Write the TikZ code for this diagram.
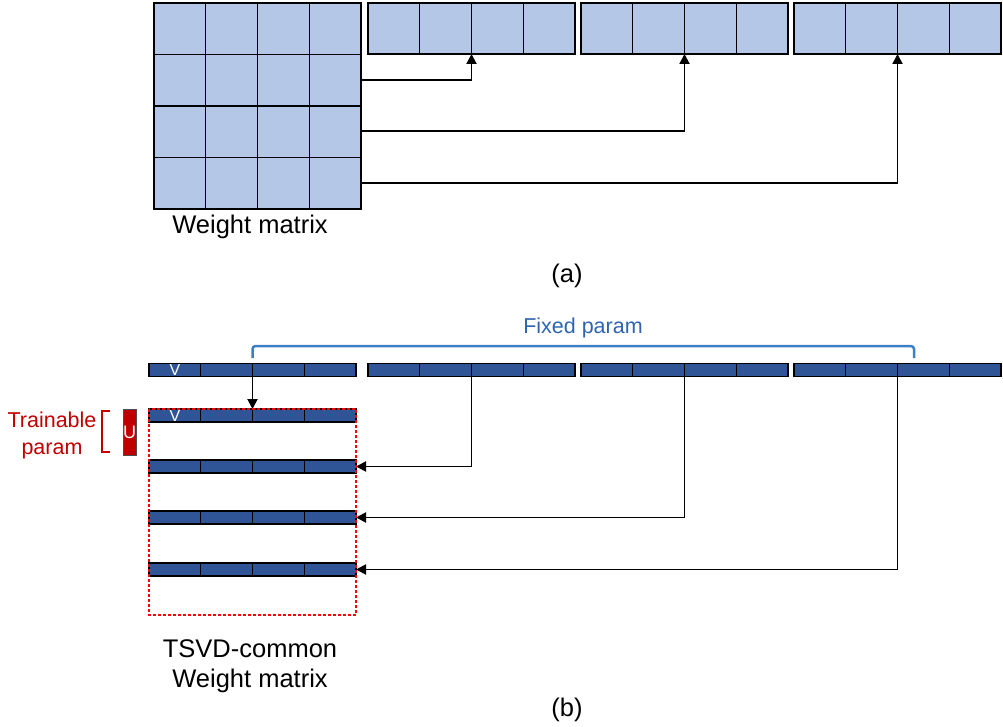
\documentclass[tikz,border=0pt]{standalone}
\usepackage{fontspec}
\setmainfont{Liberation Sans}
\usetikzlibrary{arrows.meta,calc}
\definecolor{lb}{HTML}{B4C7E7}
\definecolor{db}{HTML}{2F5597}
\definecolor{fixline}{HTML}{3D7FC4}
\definecolor{fixtxt}{HTML}{2E64B0}
\definecolor{rd}{HTML}{C00000}
\definecolor{brightred}{HTML}{FF0000}
\begin{document}
\begin{tikzpicture}[x=1pt,y=-1pt,
  blk/.style={draw=black, line width=1.6pt, fill=lb, minimum width=207pt, minimum height=51pt, inner sep=0pt, outer sep=0pt},
  bar/.style={draw=black, line width=1.6pt, fill=db, minimum width=207pt, minimum height=13pt, inner sep=0pt, outer sep=0pt},
  divider/.style={draw=black, line width=1.4pt},
  arr/.style={draw=black, line width=1.9pt, -{Triangle[length=10pt,width=10pt]}},
  lbl/.style={font=\fontsize{25.5}{30}\selectfont, inner sep=0pt},
  smalllbl/.style={font=\fontsize{21.5}{27}\selectfont, inner sep=0pt},
  vlbl/.style={font=\fontsize{16}{16}\selectfont, text=white, inner sep=0pt},
  reddot/.style={draw=brightred, line width=2.6pt, dash pattern=on 2.6pt off 2.4pt}
]
\useasboundingbox (0,0) rectangle (1003,727);

% ---------- (a) ----------
\node[blk, minimum height=206pt, line width=2.2pt] (M) at (257.5,106) {};
\foreach \i in {1,2,3} {
  \draw[divider] ($(M.north west)!\i/4!(M.north east)$) -- ($(M.south west)!\i/4!(M.south east)$);
  \draw[divider] ($(M.north west)!\i/4!(M.south west)$) -- ($(M.north east)!\i/4!(M.south east)$);
}
\draw[line width=2.2pt] (M.north west) rectangle (M.south east);

\node[blk] (R1) at (471.5,28.5) {};
\node[blk] (R2) at (684.5,28.5) {};
\node[blk] (R3) at (897.5,28.5) {};
\foreach \r in {R1,R2,R3} {
  \foreach \i in {1,2,3} {
    \draw[divider] ($(\r.north west)!\i/4!(\r.north east)$) -- ($(\r.south west)!\i/4!(\r.south east)$);
  }
}

\coordinate (a1) at (0,80);
\coordinate (a2) at (0,131);
\coordinate (a3) at (0,183);
\draw[arr] (M.east |- a1) -| (R1.south);
\draw[arr] (M.east |- a2) -| (R2.south);
\draw[arr] (M.east |- a3) -| (R3.south);

\node[lbl, anchor=base] (wm) at (250,234) {Weight matrix};
\node[lbl] (capa) at (567,276) {(a)};

% ---------- (b) ----------
\node[bar] (B0) at (252.5,370) {};
\node[bar] (B1) at (471.5,370) {};
\node[bar] (B2) at (684.5,370) {};
\node[bar] (B3) at (897.5,370) {};

\node[bar] (C0) at (252.5,415.5) {};
\node[bar] (C1) at (252.5,466.5) {};
\node[bar] (C2) at (252.5,517.5) {};
\node[bar] (C3) at (252.5,569.5) {};

\foreach \r in {B0,B1,B2,B3,C0,C1,C2,C3} {
  \foreach \i in {1,2,3} {
    \draw[divider] ($(\r.north west)!\i/4!(\r.north east)$) -- ($(\r.south west)!\i/4!(\r.south east)$);
  }
}

\node[vlbl] (v0) at (175,370) {V};
\node[vlbl] (v1) at (175,415.5) {V};

\draw[arr] (B0.south) -- (C0.north);
\draw[arr] (B1.south) |- (C1.east);
\draw[arr] (B2.south) |- (C2.east);
\draw[arr] (B3.south) |- (C3.east);

\coordinate (boxbr) at (356,615);
\draw[reddot] (C0.north west) rectangle (boxbr);

% fixed param bracket
\coordinate (fl) at (252.5,358);
\coordinate (fr) at (914,358);
\draw[fixline, line width=2.5pt, rounded corners=3pt] (fl) -- ++(0,-12) -| (fr);
\node[smalllbl, text=fixtxt] (fixed) at (583,328) {Fixed param};

% trainable param
\node[fill=rd, draw=black!70, line width=1pt, minimum width=13pt, minimum height=46pt, inner sep=0pt,
      font=\fontsize{18}{18}\selectfont, text=white] (U) at (129.5,432.5) {U};
\coordinate (tb1) at (110,411);
\coordinate (tb2) at (102,411);
\coordinate (tb3) at (102,452);
\coordinate (tb4) at (110,452);
\draw[rd, line width=2.5pt] (tb1) -- (tb2) -- (tb3) -- (tb4);
\node[smalllbl, text=rd, anchor=base] (tr1) at (52,427) {Trainable};
\node[smalllbl, text=rd, anchor=base] (tr2) at (52,454) {param};

\node[lbl, anchor=base] (ts1) at (250,657) {TSVD-common};
\node[lbl, anchor=base] (ts2) at (250,687) {Weight matrix};
\node[lbl] (capb) at (567,710) {(b)};
\end{tikzpicture}
\end{document}
